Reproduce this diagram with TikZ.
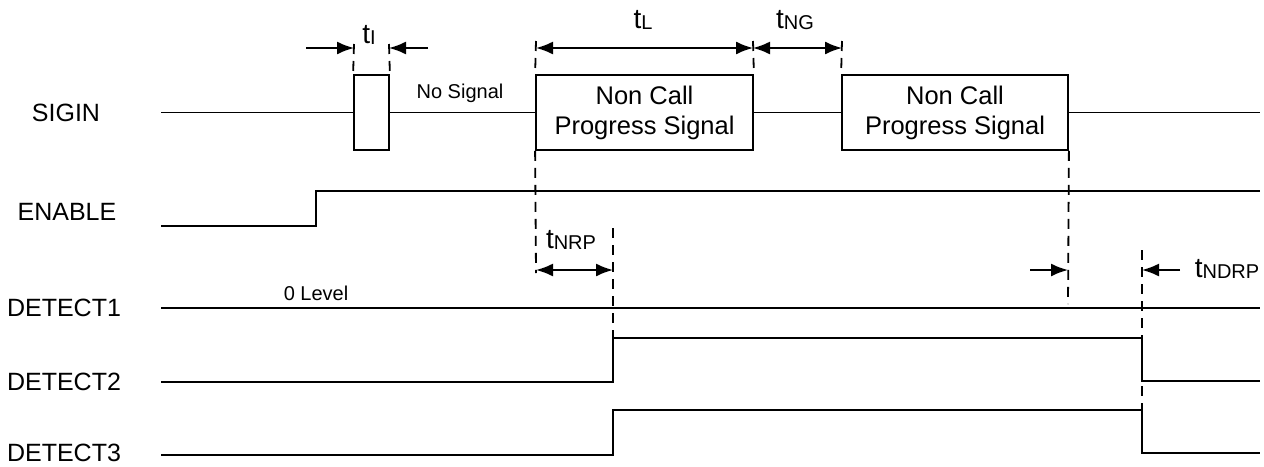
\documentclass[tikz,border=0pt]{standalone}
\usepackage{fontspec}
\setmainfont{Liberation Sans}
\usetikzlibrary{arrows.meta}
\newcommand{\tlab}[1]{t\raisebox{-1pt}{\fontsize{20}{20}\selectfont #1}}
\begin{document}
\begin{tikzpicture}[x=1pt,y=-1pt,
  sig/.style={line width=1.8pt},
  dsh/.style={line width=1.8pt, dash pattern=on 10pt off 7pt},
  dimr/.style={line width=1.8pt, -{Latex[length=17pt,width=13pt]}},
  dimb/.style={line width=1.8pt, {Latex[length=17pt,width=13pt]}-{Latex[length=17pt,width=13pt]}},
  lbl/.style={font=\fontsize{25}{30}\selectfont, anchor=base, inner sep=0pt},
  small/.style={font=\fontsize{20}{24}\selectfont, anchor=base, inner sep=0pt},
  tl/.style={font=\fontsize{28}{32}\selectfont, anchor=base, inner sep=0pt},
  pulse/.style={draw, line width=1.8pt, minimum height=75pt, inner sep=0pt, font=\fontsize{25.5}{30}\selectfont, align=center}]
\useasboundingbox (0,0) rectangle (1264,466);

% signal names
\node[lbl] (nsig) at (66,121) {SIGIN};
\node[lbl] (nen) at (67,220) {ENABLE};
\node[lbl] (nd1) at (64,316) {DETECT1};
\node[lbl] (nd2) at (64,390) {DETECT2};
\node[lbl] (nd3) at (64,461) {DETECT3};

% SIGIN
\node[pulse, minimum width=35pt] (p1) at (371.5,112.5) {};
\node[pulse, minimum width=217pt] (p2) at (644.5,112.5) {Non Call\\Progress Signal};
\node[pulse, minimum width=226pt] (p3) at (955,112.5) {Non Call\\Progress Signal};
\coordinate (s0) at (161,112.5);
\coordinate (s9) at (1260,112.5);
\draw[sig] (s0) -- (p1.west) (p1.east) -- (p2.west) (p2.east) -- (p3.west) (p3.east) -- (s9);
\node[small] (nosig) at (460,98) {No Signal};

% ENABLE
\coordinate (e0) at (161,226);
\coordinate (e1) at (316,226);
\coordinate (e2) at (316,191);
\coordinate (e3) at (1260,191);
\draw[sig] (e0) -- (e1) -- (e2) -- (e3);

% DETECT1
\coordinate (a0) at (161,308);
\coordinate (a1) at (1260,308);
\draw[sig] (a0) -- (a1);
\node[small] (zero) at (316,300) {0 Level};

% dashed guides
\draw[dsh] (354,44) -- (p1.north west);
\draw[dsh] (389,44) -- (p1.north east);
\draw[dsh] (536,41) -- (p2.north west);
\draw[dsh] (753,41) -- (p2.north east);
\draw[dsh] (842,41) -- (p3.north west);
\draw[dsh] (p2.south west) -- (536,273);
\draw[dsh] (p3.south east) -- (1068,304);
\draw[dsh] (613,228) -- (613,338);
\draw[dsh] (1142,250) -- (1142,410);

% DETECT2
\coordinate (b0) at (161,382);
\coordinate (b1) at (613,382);
\coordinate (b2) at (613,338);
\coordinate (b3) at (1142,338);
\coordinate (b4) at (1142,381);
\coordinate (b5) at (1260,381);
\draw[sig] (b0) -- (b1) -- (b2) -- (b3) -- (b4) -- (b5);

% DETECT3
\coordinate (c0) at (161,455);
\coordinate (c1) at (613,455);
\coordinate (c2) at (613,410);
\coordinate (c3) at (1142,410);
\coordinate (c4) at (1142,453);
\coordinate (c5) at (1260,453);
\draw[sig] (c0) -- (c1) -- (c2) -- (c3) -- (c4) -- (c5);

% timing arrows
\draw[dimr] (306,48) -- (354,48);
\draw[dimr] (428,48) -- (389,48);
\node[tl] (ti) at (369,43) {\tlab{I}};
\draw[dimb] (536,48) -- (753,48);
\node[tl] (tL) at (643,28) {\tlab{L}};
\draw[dimb] (753,48) -- (842,48);
\node[tl] (tNG) at (795,28) {\tlab{NG}};
\draw[dimb] (536,270) -- (613,270);
\node[tl] (tNRP) at (571,248) {\tlab{NRP}};
\draw[dimr] (1030,270) -- (1068,270);
\draw[dimr] (1180,270) -- (1142,270);
\node[tl] (tNDRP) at (1227,277) {\tlab{NDRP}};
\end{tikzpicture}
\end{document}
